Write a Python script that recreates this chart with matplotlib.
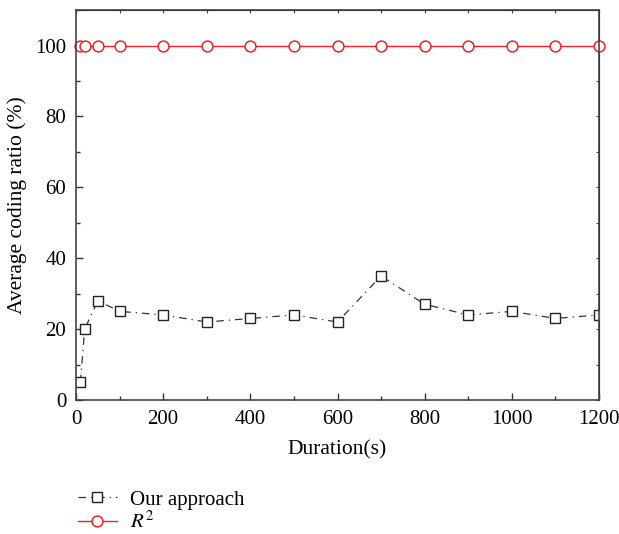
import matplotlib
matplotlib.use("Agg")
import matplotlib.pyplot as plt
from matplotlib.ticker import MultipleLocator

plt.rcParams['font.family'] = ['Liberation Serif', 'DejaVu Serif']
plt.rcParams['mathtext.fontset'] = 'stix'

duration = [10, 20, 50, 100, 200, 300, 400, 500, 600, 700, 800, 900, 1000, 1100, 1200]
our_approach = [5, 20, 28, 25, 24, 22, 23, 24, 22, 35, 27, 24, 25, 23, 24]
r2 = [100] * 15

fig = plt.figure(figsize=(6.19, 5.34), dpi=100)
ax = fig.add_axes([0.1228, 0.251, 0.8449, 0.730])

l1, = ax.plot(duration, our_approach, color='#333333', linestyle=(0, (6, 4, 1, 4)), linewidth=0.9,
              marker='s', markersize=6.8, markerfacecolor='white', markeredgecolor='#222222', markeredgewidth=1.0)
l2, = ax.plot(duration, r2, color='#e8262a', linestyle='-', linewidth=1.0,
              marker='o', markersize=7.8, markerfacecolor='white', markeredgecolor='#e8262a', markeredgewidth=1.1,
              clip_on=False)

ax.set_xlim(0, 1200)
ax.set_ylim(0, 110)
ax.xaxis.set_major_locator(MultipleLocator(200))
ax.xaxis.set_minor_locator(MultipleLocator(100))
ax.yaxis.set_major_locator(MultipleLocator(20))
ax.yaxis.set_minor_locator(MultipleLocator(10))
ax.tick_params(which='both', direction='in', labelsize=15, width=1.0, color='#333333', pad=7)
ax.tick_params(which='major', length=5)
ax.tick_params(which='minor', length=3)
for s in ax.spines.values():
    s.set_linewidth(1.2)
    s.set_color('#444444')

# short ticks on top and right
top = ax.secondary_xaxis('top')
top.xaxis.set_major_locator(MultipleLocator(100))
top.tick_params(direction='in', length=2, labeltop=False, color='#444444')
right = ax.secondary_yaxis('right')
right.yaxis.set_major_locator(MultipleLocator(10))
right.tick_params(direction='in', length=2, labelright=False, color='#444444')

ax.set_xlabel('Duration(s)', fontsize=15.5, labelpad=8)
ax.set_ylabel('Average coding ratio (%)', fontsize=15.5, labelpad=6)

fig.legend([l1, l2], ['Our approach', '$R^2$'], loc='upper left', bbox_to_anchor=(0.112, 0.098),
           frameon=False, fontsize=15, handlelength=1.9, handletextpad=0.6, labelspacing=0.1, borderaxespad=0)

fig.savefig('out.png', dpi=100)
